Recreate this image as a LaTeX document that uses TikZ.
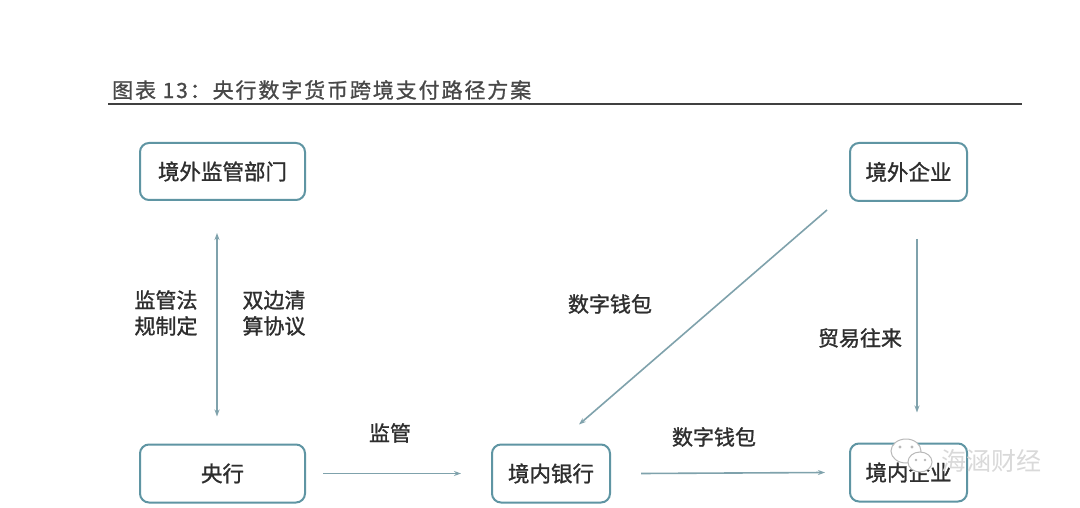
\documentclass[tikz,border=0pt]{standalone}
\usepackage{fontspec}
\newfontfamily\cjk[FakeBold=1.2]{Noto Sans CJK SC}
\newfontfamily\cjkwm{Noto Sans CJK SC}
\newfontfamily\cjktitle[LetterSpace=9,FakeBold=1]{Noto Sans CJK SC}
\usetikzlibrary{arrows.meta}
\definecolor{boxc}{HTML}{5F95A3}
\definecolor{arrc}{HTML}{7FA2AC}
\definecolor{txtc}{HTML}{2E2E2E}
\definecolor{titc}{HTML}{484848}
\tikzset{
  box/.style={draw=boxc, line width=2pt, rounded corners=9pt, fill=white,
    font=\cjk\fontsize{21.5}{23}\selectfont, text=txtc, inner sep=0pt},
  lbl/.style={font=\cjk\fontsize{21}{26}\selectfont, text=txtc, align=center, inner sep=0pt},
  conn/.style={draw=arrc, line width=1.6pt, -{Stealth[length=7pt,width=5pt]}},
  conn2/.style={draw=arrc, line width=1.6pt, {Stealth[length=7pt,width=5pt]}-{Stealth[length=7pt,width=5pt]}}
}
\begin{document}
\begin{tikzpicture}[x=1pt,y=-1pt]
\useasboundingbox (0,0) rectangle (1080,508);
\fill[white] (0,0) rectangle (1080,508);
% title
\node[anchor=west, inner sep=0pt, text=titc, font=\cjktitle\fontsize{21}{23}\selectfont] (title) at (112,90) {图表 13：央行数字货币跨境支付路径方案};
\coordinate (tl) at (108,104);
\coordinate (tr) at (1022,104);
\draw[line width=1.4pt, draw=black!75] (tl) -- (tr);
% nodes
\node[box, minimum width=165pt, minimum height=57pt] (jwjg) at (222.5,171.5) {境外监管部门};
\node[box, minimum width=117pt, minimum height=58pt] (jwqy) at (908.5,172) {境外企业};
\node[box, minimum width=165pt, minimum height=58pt] (yh) at (222.5,473.5) {央行};
\node[box, minimum width=118pt, minimum height=58pt] (jnyh) at (551,473.5) {境内银行};
\node[box, minimum width=117pt, minimum height=58pt] (jnqy) at (908.5,472.5) {境内企业};
% connectors
\draw[conn2] ([xshift=-5.5pt,yshift=-32pt]jwjg.south) -- ([xshift=-5.5pt,yshift=27pt]yh.north);
\draw[conn] ([xshift=17pt]yh.east) -- ([xshift=-30pt]jnyh.west);
\draw[conn] ([xshift=30pt]jnyh.east) -- ([xshift=-24pt]jnqy.west);
\draw[conn] ([xshift=-22pt,yshift=-8pt]jwqy.south west) -- ([xshift=88pt,yshift=19pt]jnyh.north west);
\draw[conn] ([xshift=8.5pt,yshift=-37pt]jwqy.south) -- ([xshift=8.5pt,yshift=30pt]jnqy.north);
% labels
\node[lbl] (l1) at (166,313) {监管法\\规制定};
\node[lbl] (l2) at (274,313) {双边清\\算协议};
\node[lbl] (l3) at (390,433) {监管};
\node[lbl] (l4) at (714,437) {数字钱包};
\node[lbl] (l5) at (610,304) {数字钱包};
\node[lbl] (l6) at (860,338) {贸易往来};
% watermark
\begin{scope}[draw=gray!55, fill=white, line width=1pt]
\filldraw (906,451) ellipse (15pt and 12pt);
\filldraw (920,462) ellipse (12pt and 10pt);
\fill[gray!55] (900,447) circle (1.6pt) (912,447) circle (1.6pt) (916,460) circle (1.3pt) (925,460) circle (1.3pt);
\end{scope}
\node[font=\cjkwm\fontsize{25}{27}\selectfont, text=gray!30, inner sep=0pt] (wm) at (991,461) {海涵财经};
\end{tikzpicture}
\end{document}
